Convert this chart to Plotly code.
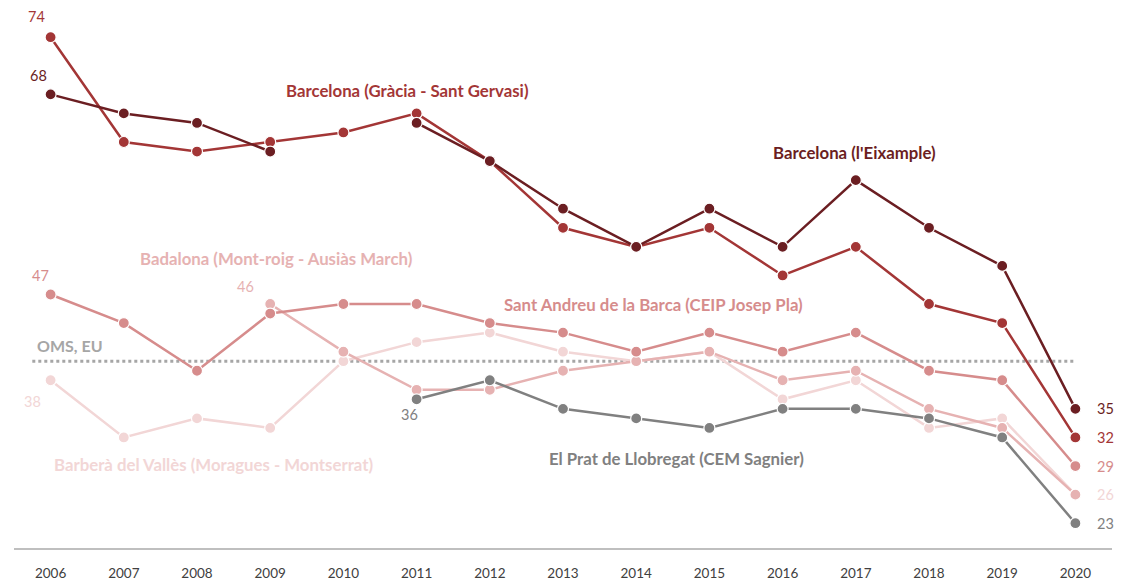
import plotly.graph_objects as go

years = list(range(2006, 2021))

eixample = [68, 66, 65, 62, None, 65, 61, 56, 52, 56, 52, 59, 54, 50, 35]
gracia = [74, 63, 62, 63, 64, 66, 61, 54, 52, 54, 49, 52, 46, 44, 32]
sant_andreu = [47, 44, 39, 45, 46, 46, 44, 43, 41, 43, 41, 43, 39, 38, 29]
badalona = [None, None, None, 46, 41, 37, 37, 39, 40, 41, 38, 39, 35, 33, 26]
barbera = [38, 32, 34, 33, 40, 42, 43, 41, 40, 41, 36, 38, 33, 34, 26]
el_prat = [None, None, None, None, None, 36, 38, 35, 34, 33, 35, 35, 34, 32, 23]
oms_limit = 40

series = [
    ("Barberà del Vallès (Moragues - Montserrat)", barbera, "#f2d6d6"),
    ("Badalona (Mont-roig - Ausiàs March)", badalona, "#e6b2b2"),
    ("El Prat de Llobregat (CEM Sagnier)", el_prat, "#808080"),
    ("Sant Andreu de la Barca (CEIP Josep Pla)", sant_andreu, "#d68c8c"),
    ("Barcelona (Gràcia - Sant Gervasi)", gracia, "#a33636"),
    ("Barcelona (l'Eixample)", eixample, "#6b1e22"),
]
colors = {name: c for name, _, c in series}

FONT = "Lato"
fig = go.Figure()

fig.add_trace(go.Scatter(
    x=[years[0] - 0.25, years[-1]], y=[oms_limit, oms_limit], mode="lines",
    line=dict(color="#a6a6a6", width=3, dash="dot"), hoverinfo="skip", showlegend=False))

for name, vals, c in series:
    fig.add_trace(go.Scatter(
        x=years, y=vals, mode="lines+markers", name=name,
        line=dict(color=c, width=2.5),
        marker=dict(size=11, color=c, line=dict(color="white", width=1.2)),
        showlegend=False))

ann = []
def lab(text, x, y, color, size=16.8, bold=True, xshift=0, yshift=0, xanchor="center"):
    ann.append(dict(x=x, y=y, xref="x", yref="y", text=f"<b>{text}</b>" if bold else text,
                    showarrow=False, font=dict(family=FONT, size=size, color=color),
                    xshift=xshift, yshift=yshift, xanchor=xanchor))

# series names
lab("Barcelona (Gràcia - Sant Gervasi)", 2010.87, 68.45, colors["Barcelona (Gràcia - Sant Gervasi)"])
lab("Barcelona (l'Eixample)", 2016.98, 61.85, colors["Barcelona (l'Eixample)"])
lab("Badalona (Mont-roig - Ausiàs March)", 2009.08, 50.8, colors["Badalona (Mont-roig - Ausiàs March)"])
lab("Sant Andreu de la Barca (CEIP Josep Pla)", 2014.24, 45.9, colors["Sant Andreu de la Barca (CEIP Josep Pla)"])
lab("Barberà del Vallès (Moragues - Montserrat)", 2008.23, 29.2, colors["Barberà del Vallès (Moragues - Montserrat)"])
lab("El Prat de Llobregat (CEM Sagnier)", 2014.55, 29.75, colors["El Prat de Llobregat (CEM Sagnier)"])
lab("OMS, EU", 2005.78, 41.7, "#a6a6a6", size=16, xanchor="left")

# start values
NS = 14.5
lab(str(gracia[0]), 2006, gracia[0], colors["Barcelona (Gràcia - Sant Gervasi)"], size=NS, bold=False, xshift=-14, yshift=21)
lab(str(eixample[0]), 2006, eixample[0], colors["Barcelona (l'Eixample)"], size=NS, bold=False, xshift=-12, yshift=19)
lab(str(sant_andreu[0]), 2006, sant_andreu[0], colors["Sant Andreu de la Barca (CEIP Josep Pla)"], size=NS, bold=False, xshift=-10, yshift=19)
lab(str(badalona[3]), 2009, badalona[3], colors["Badalona (Mont-roig - Ausiàs March)"], size=NS, bold=False, xshift=-25, yshift=18)
lab(str(barbera[0]), 2006, barbera[0], colors["Barberà del Vallès (Moragues - Montserrat)"], size=NS, bold=False, xshift=-18, yshift=-21)
lab(str(el_prat[5]), 2011, el_prat[5], colors["El Prat de Llobregat (CEM Sagnier)"], size=NS, bold=False, xshift=-7, yshift=-15)

# end values
for name, vals, c in series:
    if name == "Badalona (Mont-roig - Ausiàs March)":
        continue
    lab(str(vals[-1]), 2020, vals[-1], c, size=NS, bold=False, xshift=30)

fig.update_layout(
    width=1124, height=584,
    margin=dict(l=14, r=12, t=0, b=36),
    paper_bgcolor="white", plot_bgcolor="white",
    annotations=ann,
    xaxis=dict(range=[2005.5, 2020.5], tickmode="array", tickvals=years,
               ticktext=[str(y) for y in years], showgrid=False, zeroline=False,
               showline=True, linecolor="#bfbfbf", linewidth=1.5, automargin=False,
               ticks="outside", ticklen=12, tickcolor="rgba(0,0,0,0)",
               tickfont=dict(family=FONT, size=13.5, color="#404040")),
    yaxis=dict(range=[20.4, 77.9], visible=False, showgrid=False, zeroline=False,
               automargin=False),
)

fig.write_html("out.html", config={"displayModeBar": False},
               post_script="document.body.style.margin='0';document.body.style.overflow='hidden';")
